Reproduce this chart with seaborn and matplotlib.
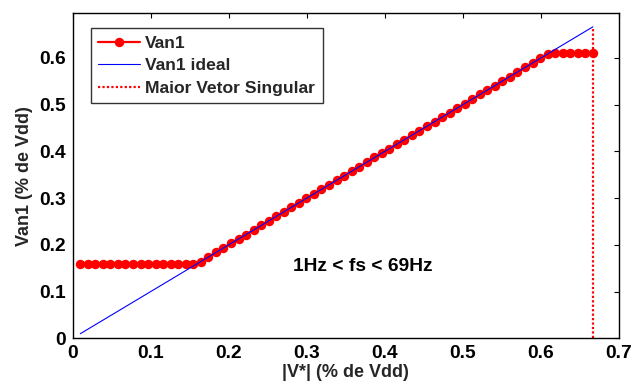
import matplotlib
matplotlib.use("Agg")
import matplotlib.pyplot as plt
import seaborn as sns
import pandas as pd

# ---- data ----
v_ref = [0.0097, 0.0193, 0.0290, 0.0386, 0.0483, 0.0580, 0.0676, 0.0773, 0.0870, 0.0966,
         0.1063, 0.1159, 0.1256, 0.1353, 0.1449, 0.1546, 0.1643, 0.1739, 0.1836, 0.1932,
         0.2029, 0.2126, 0.2222, 0.2319, 0.2415, 0.2512, 0.2609, 0.2705, 0.2802, 0.2899,
         0.2995, 0.3092, 0.3188, 0.3285, 0.3382, 0.3478, 0.3575, 0.3671, 0.3768, 0.3865,
         0.3961, 0.4058, 0.4155, 0.4251, 0.4348, 0.4444, 0.4541, 0.4638, 0.4734, 0.4831,
         0.4928, 0.5024, 0.5121, 0.5217, 0.5314, 0.5411, 0.5507, 0.5604, 0.5700, 0.5797,
         0.5894, 0.5990, 0.6087, 0.6184, 0.6280, 0.6377, 0.6473, 0.6570, 0.6667]

van1 = [0.160, 0.160, 0.160, 0.160, 0.160, 0.160, 0.160, 0.160, 0.160, 0.160,
        0.160, 0.160, 0.160, 0.160, 0.160, 0.160, 0.164, 0.174, 0.184, 0.193,
        0.203, 0.213, 0.222, 0.232, 0.242, 0.251, 0.261, 0.271, 0.280, 0.290,
        0.300, 0.309, 0.319, 0.329, 0.338, 0.348, 0.358, 0.367, 0.377, 0.387,
        0.396, 0.406, 0.416, 0.425, 0.435, 0.444, 0.454, 0.464, 0.473, 0.483,
        0.493, 0.502, 0.512, 0.522, 0.531, 0.541, 0.551, 0.560, 0.570, 0.580,
        0.589, 0.599, 0.608, 0.610, 0.610, 0.610, 0.610, 0.610, 0.610]

van1_ideal = [0.0097, 0.0193, 0.0290, 0.0386, 0.0483, 0.0580, 0.0676, 0.0773, 0.0870, 0.0966,
              0.1063, 0.1159, 0.1256, 0.1353, 0.1449, 0.1546, 0.1643, 0.1739, 0.1836, 0.1932,
              0.2029, 0.2126, 0.2222, 0.2319, 0.2415, 0.2512, 0.2609, 0.2705, 0.2802, 0.2899,
              0.2995, 0.3092, 0.3188, 0.3285, 0.3382, 0.3478, 0.3575, 0.3671, 0.3768, 0.3865,
              0.3961, 0.4058, 0.4155, 0.4251, 0.4348, 0.4444, 0.4541, 0.4638, 0.4734, 0.4831,
              0.4928, 0.5024, 0.5121, 0.5217, 0.5314, 0.5411, 0.5507, 0.5604, 0.5700, 0.5797,
              0.5894, 0.5990, 0.6087, 0.6184, 0.6280, 0.6377, 0.6473, 0.6570, 0.6667]

singular_x = [0.6667, 0.6667]
singular_y = [0.0, 0.6667]

x_ticks = [0, 0.1, 0.2, 0.3, 0.4, 0.5, 0.6, 0.7]
x_tick_labels = ["0", "0.1", "0.2", "0.3", "0.4", "0.5", "0.6", "0.7"]
y_ticks = [0, 0.1, 0.2, 0.3, 0.4, 0.5, 0.6]
y_tick_labels = ["0", "0.1", "0.2", "0.3", "0.4", "0.5", "0.6"]

# ---- style ----
sns.set_theme(style="white")
plt.rcParams["font.family"] = ["Liberation Sans", "DejaVu Sans"]
plt.rcParams["font.weight"] = "bold"

fig = plt.figure(figsize=(6.38, 3.87), dpi=100)
ax = fig.add_axes([0.114, 0.126, 0.856, 0.840])

df = pd.DataFrame({"v": v_ref, "van1": van1, "ideal": van1_ideal})

sns.lineplot(data=df, x="v", y="van1", ax=ax, color="#ff0000", linewidth=1.6,
             marker="o", markersize=6.8, markeredgewidth=0, markeredgecolor="#ff0000",
             estimator=None, sort=False, label="Van1")
sns.lineplot(data=df, x="v", y="ideal", ax=ax, color="#0000ff", linewidth=0.8,
             estimator=None, sort=False, label="Van1 ideal")
sns.lineplot(x=singular_x, y=singular_y, ax=ax, color="#ff0000", linewidth=1.6,
             linestyle=(0, (1, 1)), estimator=None, sort=False,
             label="Maior Vetor Singular")

ax.set_xlim(0, 0.7)
ax.set_ylim(0, 0.696)
ax.set_xticks(x_ticks)
ax.set_xticklabels(x_tick_labels, fontsize=13.8, fontweight="bold")
ax.set_yticks(y_ticks)
ax.set_yticklabels(y_tick_labels, fontsize=13.8, fontweight="bold")
ax.tick_params(direction="in", length=3.8, width=0.8, top=True, right=True,
               colors="black", pad=5)

for s in ax.spines.values():
    s.set_color("black")
    s.set_linewidth(1.0)
    s.set_visible(True)

ax.set_xlabel("|V*| (% de Vdd)", fontsize=13, fontweight="bold", labelpad=1)
ax.set_ylabel("Van1 (% de Vdd)", fontsize=13, fontweight="bold", labelpad=4)

ax.text(0.282, 0.153, "1Hz < fs < 69Hz", fontsize=13.8, fontweight="bold",
        ha="left", va="center", color="black")

leg = ax.legend(loc="upper left", bbox_to_anchor=(0.033, 0.954), borderaxespad=0,
                fontsize=12.6, frameon=True, fancybox=False, edgecolor="black",
                handlelength=2.4, handletextpad=0.3, labelspacing=0.42,
                borderpad=0.42)
leg.get_frame().set_linewidth(1.0)
for t in leg.get_texts():
    t.set_fontweight("bold")

fig.savefig("out.png", dpi=100)
